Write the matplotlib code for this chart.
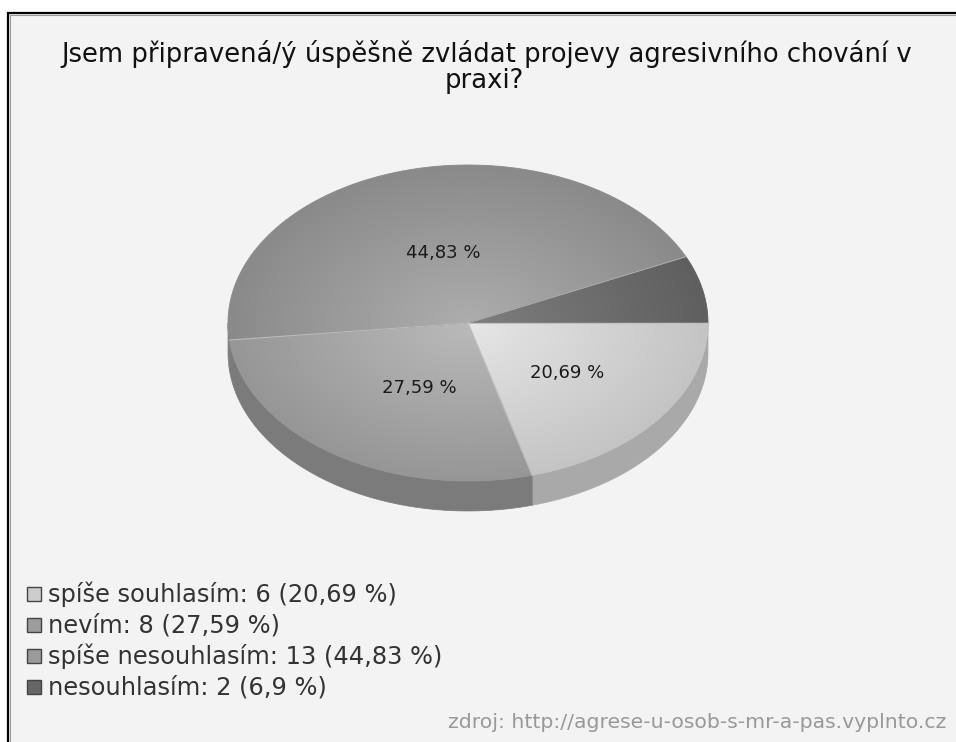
import numpy as np
import matplotlib
matplotlib.use("Agg")
import matplotlib.pyplot as plt
from matplotlib.patches import Polygon, Rectangle
from matplotlib.lines import Line2D

# ---------------- data ----------------
title_lines = ["Jsem připravená/ý úspěšně zvládat projevy agresivního chování v", "praxi?"]
categories = ["spíše souhlasím", "nevím", "spíše nesouhlasím", "nesouhlasím"]
counts = [6, 8, 13, 2]
source_text = "zdroj: http://agrese-u-osob-s-mr-a-pas.vyplnto.cz"

# ---------------- style ----------------
top_inner = ["#e6e6e6", "#bababa", "#adadad", "#7e7e7e"]
top_outer = ["#c4c4c4", "#969696", "#8a8a8a", "#5f5f5f"]
side_colors = ["#a9a9a9", "#7b7b7b", "#808080", "#5a5a5a"]
legend_colors = ["#cccccc", "#9c9c9c", "#9a9a9a", "#666666"]
label_frac = [(0.52, 0.52), (0.36, 0.50), (0.38, 0.46), (0.5, 0.5)]
min_label_pct = 10.0

W, H = 956, 742
cx, cy, ra, rb, depth = 468.0, 323.0, 240.0, 158.0, 30.0

plt.rcParams["font.family"] = ["DejaVu Sans"]

fig = plt.figure(figsize=(W / 100, H / 100), dpi=100)
fig.patch.set_facecolor("white")
ax = fig.add_axes([0, 0, 1, 1])
ax.set_xlim(0, W)
ax.set_ylim(H, 0)
ax.axis("off")

# panel
ax.add_patch(Rectangle((8, 13), W, H, facecolor="#f3f3f3", edgecolor="none", zorder=0))
ax.add_line(Line2D([8, 8], [12, H], color="black", lw=1.6, zorder=1, solid_capstyle="butt"))
ax.add_line(Line2D([7, W], [13, 13], color="black", lw=1.6, zorder=1, solid_capstyle="butt"))
ax.add_line(Line2D([10, 10], [15, H], color="#9a9a9a", lw=0.8, zorder=1))
ax.add_line(Line2D([10, W], [15, 15], color="#9a9a9a", lw=0.8, zorder=1))

# title
ax.text(487, 62, title_lines[0], ha="center", va="baseline", fontsize=18.6, color="#111111")
ax.text(484, 88, title_lines[1], ha="center", va="baseline", fontsize=18.6, color="#111111")

total = sum(counts)
pcts = [100.0 * c / total for c in counts]


def fmt_pct(p):
    s = "%.2f" % p
    s = s.rstrip("0").rstrip(".")
    return s.replace(".", ",")


# angles (parametric, clockwise in screen, starting at 3 o'clock)
bounds = np.concatenate([[0.0], np.cumsum(pcts) * 3.6])


def ell(t_deg, dy=0.0):
    t = np.radians(t_deg)
    return cx + ra * np.cos(t), cy + rb * np.sin(t) + dy


# sides (visible for t in [0, 180])
for i in range(len(counts)):
    lo, hi = max(bounds[i], 0.0), min(bounds[i + 1], 180.0)
    if hi <= lo:
        continue
    ts = np.linspace(lo, hi, 120)
    xt, yt = ell(ts)
    xb, yb = ell(ts, depth)
    pts = np.column_stack([np.concatenate([xt, xb[::-1]]), np.concatenate([yt, yb[::-1]])])
    ax.add_patch(Polygon(pts, closed=True, facecolor=side_colors[i], edgecolor=side_colors[i],
                         lw=0.5, zorder=2))

# top face with radial gradient
nx, ny = 600, 400
gx = np.linspace(cx - ra, cx + ra, nx)
gy = np.linspace(cy - rb, cy + rb, ny)
GX, GY = np.meshgrid(gx, gy)
R = np.clip(np.sqrt(((GX - cx) / ra) ** 2 + ((GY - cy) / rb) ** 2), 0, 1)


def hex2rgb(h):
    return np.array([int(h[k:k + 2], 16) / 255.0 for k in (1, 3, 5)])


for i in range(len(counts)):
    ts = np.linspace(bounds[i], bounds[i + 1], 200)
    xs, ys = ell(ts)
    pts = np.column_stack([np.concatenate([[cx], xs]), np.concatenate([[cy], ys])])
    clip = Polygon(pts, closed=True, transform=ax.transData)
    c0, c1 = hex2rgb(top_inner[i]), hex2rgb(top_outer[i])
    img = c0[None, None, :] + (c1 - c0)[None, None, :] * R[:, :, None]
    im = ax.imshow(img, extent=[cx - ra, cx + ra, cy + rb, cy - rb], origin="upper",
                   interpolation="bilinear", zorder=3, aspect="auto")
    im.set_clip_path(clip)
    # subtle matching edge to smooth the clipped border
    ax.add_patch(Polygon(pts, closed=True, facecolor="none", edgecolor=top_outer[i], lw=0.6, zorder=3.5))

# light separator lines
for b in bounds[:-1]:
    x, y = ell(b)
    ax.add_line(Line2D([cx, x], [cy, y], color="#cfcfcf", lw=0.8, alpha=0.7, zorder=4))

# slice labels
for i, p in enumerate(pcts):
    if p < min_label_pct:
        continue
    mid = np.radians((bounds[i] + bounds[i + 1]) / 2)
    fx, fy = label_frac[i]
    lx = cx + ra * fx * np.cos(mid)
    ly = cy + rb * fy * np.sin(mid)
    ax.text(lx, ly, fmt_pct(p) + " %", ha="center", va="center", fontsize=13, color="#1a1a1a", zorder=5)

# legend
for i, (name, c) in enumerate(zip(categories, counts)):
    base = 602 + 31 * i
    ax.add_patch(Rectangle((27.5, base - 15), 14, 14, facecolor=legend_colors[i],
                           edgecolor="#444444", lw=1.0, zorder=5))
    ax.text(48, base, "%s: %d (%s %%)" % (name, c, fmt_pct(pcts[i])), ha="left", va="baseline",
            fontsize=17.4, color="#333333", zorder=5)

# source
ax.text(946, 728, source_text, ha="right", va="baseline", fontsize=14.7, color="#999999", zorder=5)

fig.savefig("out.png", dpi=100, facecolor="white")
